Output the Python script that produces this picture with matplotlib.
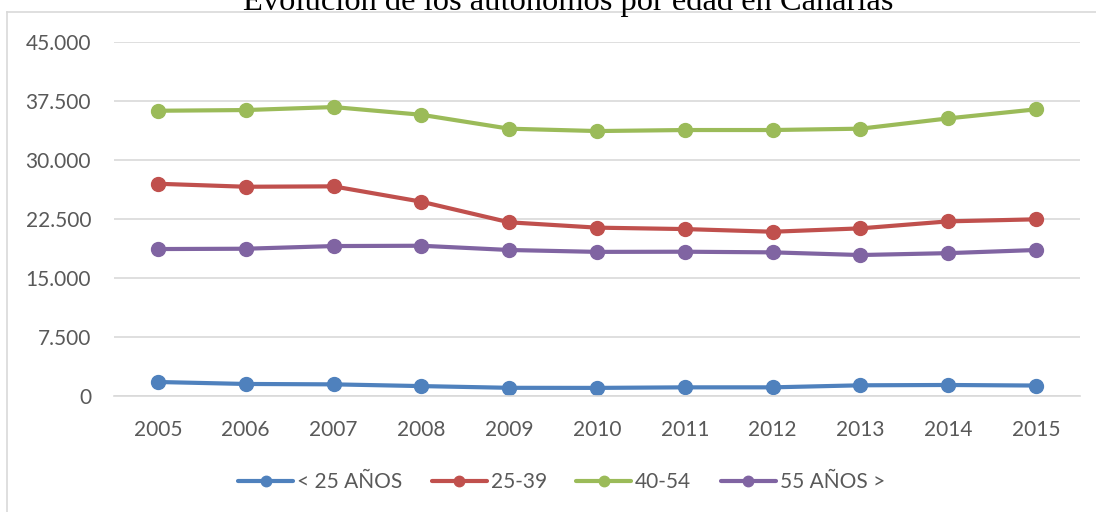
import matplotlib
matplotlib.use("Agg")
import matplotlib.pyplot as plt
from matplotlib.lines import Line2D
from matplotlib.ticker import FuncFormatter


years = ["2005", "2006", "2007", "2008", "2009", "2010",
         "2011", "2012", "2013", "2014", "2015"]
menores_25 = [1780, 1530, 1480, 1260, 1040, 1030, 1100, 1100, 1360, 1400, 1330]
de_25_39 = [26980, 26600, 26650, 24700, 22080, 21400, 21220, 20880, 21310, 22200, 22460]
de_40_54 = [36260, 36350, 36730, 35750, 33980, 33680, 33810, 33810, 33980, 35290, 36440]
mayores_55 = [18680, 18720, 19060, 19100, 18560, 18320, 18340, 18260, 17920, 18160, 18560]
series_labels = ["< 25 AÑOS", "25-39", "40-54", "55 AÑOS >"]
y_ticks = [0, 7500, 15000, 22500, 30000, 37500, 45000]

colors = ["#4F81BD", "#C0504D", "#9BBB59", "#8064A2"]
W, H = 1096, 512

plt.rcParams['font.family'] = ['Lato', 'DejaVu Sans']

fig = plt.figure(figsize=(W / 100, H / 100), dpi=100)
fig.patch.set_facecolor("white")

# chart area border, cropped on right and bottom: only top and left edges show
fig.lines.append(Line2D([7 / W, 1.0], [1 - 12 / H, 1 - 12 / H], transform=fig.transFigure,
                        color="#D9D9D9", linewidth=1.2))
fig.lines.append(Line2D([7 / W, 7 / W], [0.0, 1 - 12 / H], transform=fig.transFigure,
                        color="#D9D9D9", linewidth=1.2))

# title, partly cut off at the top
fig.text(568 / W, 1 - 10 / H, "Evolución de los autónomos por edad en Canarias",
         ha="center", va="baseline", fontsize=23.4,
         family="Liberation Serif", color="black")

ax = fig.add_axes([114 / W, 1 - 396 / H, (1080 - 114) / W, (396 - 42) / H])
x = list(range(len(years)))
for vals, lab, col in zip([menores_25, de_25_39, de_40_54, mayores_55],
                          series_labels, colors):
    ax.plot(x, vals, color=col, linewidth=3, marker="o", markersize=10,
            label=lab, solid_capstyle="round")

ax.set_xlim(-0.5, len(years) - 0.5)
ax.set_ylim(0, 45000)
ax.set_yticks(y_ticks)
ax.yaxis.set_major_formatter(FuncFormatter(lambda v, p: f"{int(v):,}".replace(",", ".")))
ax.set_xticks(x)
ax.set_xticklabels(years)
ax.grid(axis="y", color="#D9D9D9", linewidth=1.2)
ax.set_axisbelow(True)
for s in ["top", "right", "left"]:
    ax.spines[s].set_visible(False)
ax.spines["bottom"].set_color("#D9D9D9")
ax.spines["bottom"].set_linewidth(1.2)
ax.tick_params(axis="both", length=0, labelsize=15, labelcolor="#595959")
ax.tick_params(axis="y", pad=16.5)
ax.tick_params(axis="x", pad=17.5)

handles, labels = ax.get_legend_handles_labels()
fig.legend(handles, labels, loc="center", bbox_to_anchor=(561.5 / W, 1 - 482 / H),
           ncol=4, frameon=False, fontsize=15, labelcolor="#595959",
           handlelength=2.64, handletextpad=0.2, columnspacing=1.4,
           markerscale=0.75)

fig.savefig("out.png", dpi=100)
